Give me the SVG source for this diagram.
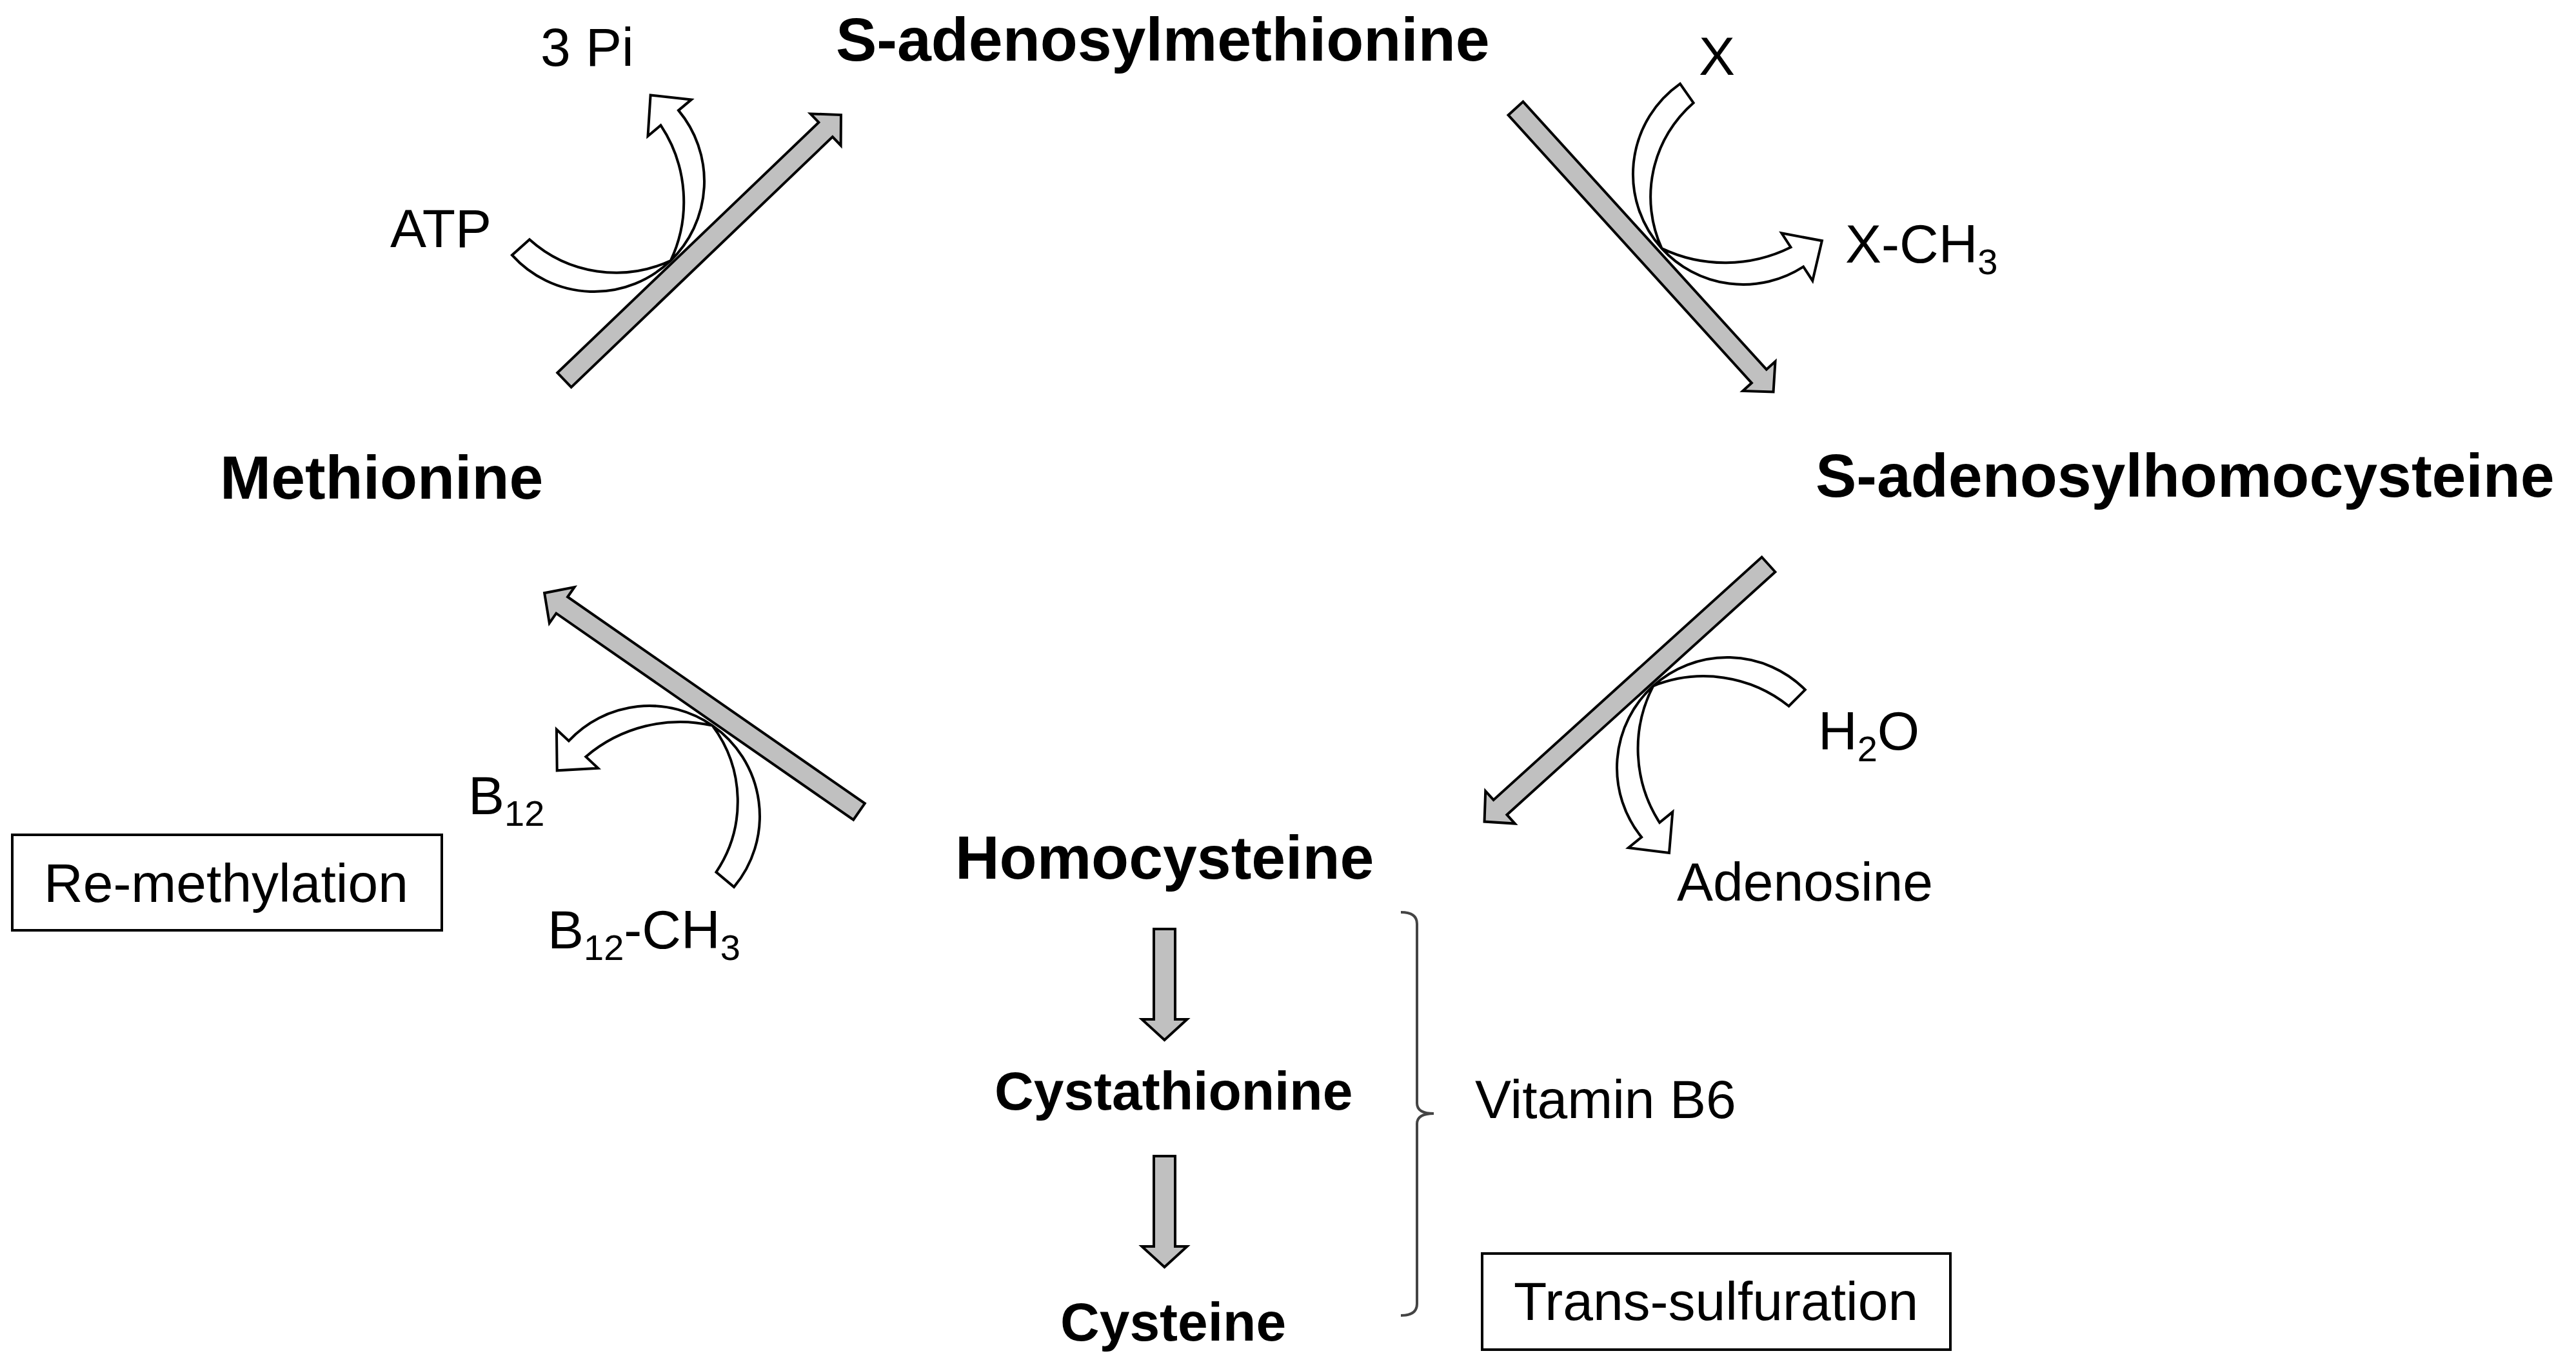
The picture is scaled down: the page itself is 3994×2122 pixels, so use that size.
<svg xmlns="http://www.w3.org/2000/svg" xmlns:xlink="http://www.w3.org/1999/xlink" width="3994" height="2122" viewBox="0 0 3994 2122">
<style>
text{font-family:"Liberation Sans",Arial,sans-serif;fill:#000}
.r{font-size:84px}
.b{font-size:95px;font-weight:bold}
.bs{font-size:84px;font-weight:bold}
.s{font-size:56px}
.ga{fill:#c0c0c0;stroke:#000;stroke-width:4;stroke-linejoin:miter}
.wa{fill:#fff;stroke:#000;stroke-width:4;stroke-linejoin:miter}
.box{fill:#fff;stroke:#000;stroke-width:4}
.br{fill:none;stroke:#444;stroke-width:4}
</style>
<defs>
<path id="diag" d="M0,-15.5 H561 V-34 L594,0 L561,34 V15.5 H0 Z"/>
<path id="down" d="M-16.5,0 V140 H-35 L0,172 L35,140 H16.5 V0 Z"/>
</defs>
<rect width="3994" height="2122" fill="#fff"/>
<g id="connectors">
<use xlink:href="#diag" class="ga" transform="translate(875,589) rotate(-43.77)"/>
<use xlink:href="#diag" class="ga" transform="translate(2350,168) rotate(47.73)"/>
<use xlink:href="#diag" class="ga" transform="translate(2742,875) rotate(137.86)"/>
<use xlink:href="#diag" class="ga" transform="translate(1332,1258) rotate(-145.22)"/>
<use xlink:href="#down" class="ga" transform="translate(1805.5,1440)"/>
<use xlink:href="#down" class="ga" transform="translate(1805.5,1792)"/>
<path id="c-atp" class="wa" d="M821,371.3 A200.6,200.6 0 0 0 1039.8,404 A214,214 0 0 0 1024.4,194.2 L1004.5,211 L1008.6,147.5 L1071.9,154.4 L1052,171.1 A171,171 0 0 1 1039.8,404 A171,171 0 0 1 793.9,395.4 Z"/>
<path id="c-x" class="wa" d="M2625.6,159.4 A193,193 0 0 0 2576.5,385.1 A229,229 0 0 0 2776.5,383.2 L2762.3,361.4 L2824.9,373.2 L2810.3,435.2 L2796.1,413.4 A171,171 0 0 1 2576.5,385.1 A171,171 0 0 1 2604.9,129.9 Z"/>
<path id="c-h2o" class="wa" d="M2773.5,1094.5 A211,211 0 0 0 2563.2,1063.3 A212,212 0 0 0 2573.1,1275 L2593.3,1258.6 L2588,1322 L2524.9,1314 L2545.1,1297.6 A171,171 0 0 1 2563.2,1063.3 A171,171 0 0 1 2798.9,1069.1 Z"/>
<path id="c-b12" class="wa" d="M1110.4,1351.8 A196,196 0 0 0 1104.5,1124.6 A225.5,225.5 0 0 0 908.3,1172.9 L927.3,1190.7 L863.7,1194.3 L862.9,1130.7 L881.9,1148.4 A171,171 0 0 1 1104.5,1124.6 A171,171 0 0 1 1138,1374.9 Z"/>
<path id="bracket" class="br" d="M2172,1414 Q2197,1414 2197,1432 L2197,1710 Q2197,1726 2223,1726 Q2197,1726 2197,1742 L2197,2021 Q2197,2039 2172,2039"/>
</g>
<g id="n-sam"><text class="b" x="1296" y="94">S-adenosylmethionine</text></g>
<g id="n-sah"><text class="b" x="2815" y="770">S-adenosylhomocysteine</text></g>
<g id="n-met"><text class="b" x="341" y="773">Methionine</text></g>
<g id="n-hcy"><text class="b" x="1481" y="1362">Homocysteine</text></g>
<g id="n-cysta"><text class="bs" x="1542" y="1720">Cystathionine</text></g>
<g id="n-cys"><text class="bs" x="1644" y="2078">Cysteine</text></g>
<g id="l-3pi"><text class="r" x="838" y="102">3 Pi</text></g>
<g id="l-atp"><text class="r" x="605" y="383">ATP</text></g>
<g id="l-x"><text class="r" x="2634" y="116">X</text></g>
<g id="l-xch3"><text class="r" x="2861" y="407">X-CH<tspan class="s" dy="18">3</tspan></text></g>
<g id="l-h2o"><text class="r" x="2819" y="1162">H<tspan class="s" dy="18">2</tspan><tspan dy="-18">O</tspan></text></g>
<g id="l-adenosine"><text class="r" x="2600" y="1396">Adenosine</text></g>
<g id="l-b12"><text class="r" x="726" y="1262">B<tspan class="s" dy="18">12</tspan></text></g>
<g id="l-b12ch3"><text class="r" x="849" y="1470">B<tspan class="s" dy="18">12</tspan><tspan dy="-18">-CH</tspan><tspan class="s" dy="18">3</tspan></text></g>
<g id="l-b6"><text class="r" x="2287" y="1733">Vitamin B6</text></g>
<g id="remethylation"><rect class="box" x="19" y="1294" width="666" height="148"/><text class="r" x="68" y="1398">Re-methylation</text></g>
<g id="transsulfuration"><rect class="box" x="2298" y="1943" width="726" height="149"/><text class="r" x="2347" y="2046">Trans-sulfuration</text></g>
</svg>
